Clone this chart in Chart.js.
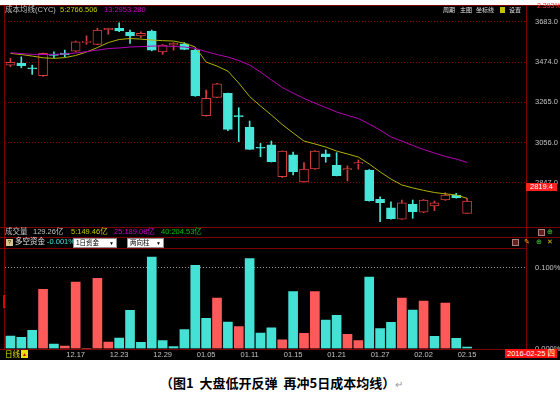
<!DOCTYPE html>
<html>
<head>
<meta charset="utf-8">
<script src="https://cdn.jsdelivr.net/npm/chart.js@4.4.1/dist/chart.umd.min.js"></script>
<style>
  body { margin: 0; background: #fff; width: 560px; height: 397px; overflow: hidden; position: relative;
         font-family: "Liberation Sans", "Noto Sans CJK SC", sans-serif; }
  #pane { position: absolute; left: 0; top: 5px; width: 560px; height: 355px; background: #000; overflow: hidden; }
  .t { position: absolute; white-space: nowrap; font-size: 7.5px; line-height: 8px; color: #c0c0c0; }
  .xl { position: absolute; top: 351px; width: 30px; margin-left: -15px; text-align: center; white-space: nowrap;
        font-size: 7.5px; line-height: 8px; color: #c0c0c0; }
  .ln { position: absolute; background: #7c0000; }
  canvas { position: absolute; left: 0; }
  .box { position: absolute; }
  #caption { position: absolute; left: 160px; top: 375px; white-space: nowrap; font-family: "Noto Sans CJK SC", sans-serif;
             font-weight: bold; font-size: 13px; line-height: 16px; color: #000; }
</style>
</head>
<body>
<div id="pane"></div>

<!-- frame lines -->
<div class="ln" style="left:0;top:5px;width:560px;height:1px"></div>
<div class="ln" style="left:4px;top:5px;width:1px;height:344px"></div>
<div class="ln" style="left:526px;top:5px;width:1px;height:344px"></div>
<div class="ln" style="left:0;top:227px;width:560px;height:1px"></div>
<div class="ln" style="left:0;top:237px;width:560px;height:1px"></div>
<div class="ln" style="left:0;top:248px;width:527px;height:1px"></div>
<div class="ln" style="left:0;top:349px;width:560px;height:1px"></div>
<div class="ln" style="left:3px;top:295px;width:2px;height:13px;background:#e00000"></div>

<canvas id="price" width="560" height="222" style="top:5px"></canvas>
<canvas id="flow" width="560" height="112" style="top:248px"></canvas>
<div id="xlabels"></div>

<!-- header of price panel -->
<div class="t" style="left:5px;top:6px">成本均线(CYC)</div>
<div class="t" style="left:60px;top:6px;color:#c8c800">5:2766.506</div>
<div class="t" style="left:104px;top:6px;color:#c800c8">13:2953.280</div>
<div class="t" style="left:443px;top:6px;color:#e0e0e0;font-size:6px">周期</div>
<div class="t" style="left:460px;top:6px;color:#e0e0e0;font-size:6px">主图</div>
<div class="t" style="left:476px;top:6px;color:#e0e0e0;font-size:6px">坐标线</div>
<div class="box" style="left:500px;top:7px;width:5px;height:6px;background:#c8c000"></div>
<div class="t" style="left:509px;top:6px;color:#e0e0e0;font-size:6px">设置</div>
<div class="t" style="left:537px;top:2px;color:#ff3030;font-size:7px">2.393%</div>

<div class="t" style="left:526px;top:183px;width:31px;height:8px;background:#ff2020;color:#fff;text-align:center">2819.4</div>

<!-- volume row -->
<div class="t" style="left:5px;top:228px">成交量</div>
<div class="t" style="left:33px;top:228px">129.26亿</div>
<div class="t" style="left:71px;top:228px;color:#c8c800">5:149.46亿</div>
<div class="t" style="left:114px;top:228px;color:#c800c8">25:189.08亿</div>
<div class="t" style="left:161px;top:228px;color:#00c000">40:204.53亿</div>
<div class="box" style="left:538px;top:229px;width:5px;height:5px;border:1px solid #b08080;background:#602020"></div>
<div class="t" style="left:547px;top:228px;color:#40d040;font-family:'DejaVu Sans';font-size:7px">⊕</div>

<!-- money flow row -->
<div class="box" style="left:6px;top:239px;width:7px;height:7px;background:#d8c890;color:#402000;font-size:6px;line-height:7px;text-align:center">?</div>
<div class="t" style="left:15px;top:238px;color:#e0e0e0">多空资金</div>
<div class="t" style="left:47px;top:238px;color:#40e0e0">-0.001%</div>
<div class="box" style="left:73px;top:238px;width:42px;height:8px;background:#fff;border:1px solid #909090"></div>
<div class="t" style="left:76px;top:238.5px;color:#000;font-size:6.5px">1日资金</div>
<div class="t" style="left:109px;top:238.5px;color:#000;font-size:5px">▼</div>
<div class="box" style="left:127px;top:238px;width:35px;height:8px;background:#fff;border:1px solid #909090"></div>
<div class="t" style="left:130px;top:238.5px;color:#000;font-size:6.5px">两向柱</div>
<div class="t" style="left:156px;top:238.5px;color:#000;font-size:5px">▼</div>
<div class="box" style="left:512px;top:239px;width:5px;height:5px;border:1px solid #b08080;background:#602020"></div>
<div class="t" style="left:524px;top:238px;color:#d8c000;font-family:'DejaVu Sans';font-size:7px">✎</div>
<div class="t" style="left:536px;top:238px;color:#40d040;font-family:'DejaVu Sans';font-size:7px">⊕</div>
<div class="t" style="left:547px;top:238px;color:#d8c000;font-family:'DejaVu Sans';font-size:7px">✕</div>

<!-- bottom row -->
<div class="t" style="left:5px;top:351px;color:#e0e000">日线</div>
<div class="box" style="left:21px;top:350px;width:7px;height:8px;background:#e8e000;color:#d00000;font-size:5px;line-height:8px;text-align:center">▲</div>
<div class="t" style="left:505px;top:349px;width:52px;height:9px;line-height:9px;background:#ff1010;color:#fff;text-align:center">2016-02-25 四</div>

<div id="caption">（图1&nbsp; 大盘低开反弹&nbsp; 再冲5日成本均线）<span style="font-weight:normal;color:#999;font-size:10px">↵</span></div>

<script>
// trading days shown in the window
const dates = ['12.09','12.10','12.11','12.14','12.15','12.16','12.17','12.18','12.21','12.22',
  '12.23','12.24','12.25','12.28','12.29','12.30','12.31','01.04','01.05','01.06',
  '01.07','01.08','01.11','01.12','01.13','01.14','01.15','01.18','01.19','01.20',
  '01.21','01.22','01.25','01.26','01.27','01.28','01.29','02.01','02.02','02.03',
  '02.04','02.05','02.15'];
const labelIdx = [6, 10, 14, 18, 22, 26, 30, 34, 38, 42];

// daily candles
const open  = [3458,3467,3444,3403,3515,3521,3531,3576,3566,3642,3649,3628,3610,3635,3527,3562,3569,3536,3196,3291,
  3312,3196,3135,3032,3044,2879,2993,2852,2919,2998,2938,2914,2945,2914,2762,2718,2658,2736,2695,2727,2758,2784,2689];
const close = [3472,3455,3438,3519,3509,3512,3579,3581,3640,3649,3635,3610,3623,3535,3562,3573,3540,3298,3286,3361,
  3125,3189,3021,3027,2957,3012,2905,2918,3012,2983,2884,2921,2952,2755,2744,2661,2744,2698,2758,2744,2784,2770,2753];
const high  = [3493,3501,3458,3521,3527,3536,3583,3610,3649,3650,3678,3640,3631,3640,3565,3575,3575,3540,3329,3363,
  3313,3237,3168,3052,3064,3013,3007,2952,3015,3018,3004,2935,2966,2916,2775,2748,2758,2758,2761,2753,2796,2793,2767];
const low   = [3450,3444,3410,3400,3496,3501,3528,3566,3564,3618,3632,3571,3600,3532,3514,3536,3538,3296,3193,3289,
  3118,3061,3020,2983,2955,2875,2888,2850,2917,2954,2883,2857,2918,2752,2646,2658,2657,2663,2692,2703,2756,2768,2688];

// cost moving averages
const cyc5  = [3519,3513,3505,3496,3493,3497,3508,3526,3549,3575,3591,3596,3593,3588,3585,3583,3572,3552,3474,3453,
  3427,3365,3295,3246,3199,3150,3106,3064,3049,3033,3012,2997,2981,2945,2904,2867,2836,2821,2808,2797,2790,2784,2767];
const cyc13 = [3522,3518,3514,3513,3514,3516,3521,3528,3536,3544,3547,3552,3554,3557,3557,3555,3552,3545,3528,3513,
  3500,3482,3458,3422,3381,3342,3313,3285,3261,3238,3215,3197,3181,3152,3121,3085,3064,3041,3020,3002,2984,2971,2953];

// money flow bars (percent) and direction (1 = inflow red, -1 = outflow cyan)
const flow = [0.0157,0.0141,0.0227,0.0733,0.0058,0.0033,0.0823,0,0.0869,0.0082,0.0132,0.0474,0.0078,0.1132,0.0099,
  0.0025,0.0235,0.1030,0.0375,0.0626,0.0330,0.0272,0.1111,0.0194,0.0259,0.0111,0.0704,0.0190,0.0704,0.0354,
  0.0412,0.0178,0.0099,0.0885,0.0247,0.0326,0.0626,0.0478,0.0589,0.0153,0.0564,0.0128,0.0021];
const flowDir = [-1,-1,-1,1,-1,1,1,1,1,1,-1,-1,-1,-1,-1,-1,-1,-1,-1,1,-1,1,-1,-1,-1,1,-1,1,1,-1,
  -1,1,1,-1,-1,-1,1,-1,1,-1,1,-1,-1];

const priceTicks = [2847, 3056, 3265, 3474, 3683];
const flowTicks = [0, 0.1];

const RED = '#d83c3c', CYAN = '#48e6d8';
const FLOW_RED = '#ff5a5a', FLOW_CYAN = '#44e2d4';
const axisFont = { family: 'Liberation Sans', size: 7.5 };
const X_MIN = -0.5, X_MAX = 47.42;

const idx = dates.map((d, i) => i);
const up = close.map((c, i) => c >= open[i]);

function fixedWidth(s) { s.width = 34; s.paddingTop = 0; s.paddingBottom = 0; }

new Chart(document.getElementById('price'), {
  data: {
    datasets: [
      { type: 'line', data: idx.map(i => ({ x: i, y: cyc13[i] })), borderColor: '#b400b4', borderWidth: 1,
        pointRadius: 0, order: 0 },
      { type: 'line', data: idx.map(i => ({ x: i, y: cyc5[i] })), borderColor: '#b0b000', borderWidth: 1,
        pointRadius: 0, order: 0 },
      { type: 'bar', data: idx.map(i => ({ x: i, y: [open[i], close[i]] })),
        backgroundColor: up.map(u => u ? '#000' : CYAN), borderColor: up.map(u => u ? RED : CYAN),
        borderWidth: 1, borderSkipped: false, barThickness: 9, grouped: false, order: 1 },
      { type: 'bar', data: idx.map(i => ({ x: i, y: [low[i], high[i]] })),
        backgroundColor: up.map(u => u ? RED : CYAN), barThickness: 1, grouped: false, order: 2 }
    ]
  },
  options: {
    responsive: false,
    animation: false,
    layout: { padding: { left: 5, right: 0, top: 0, bottom: 0 } },
    plugins: { legend: { display: false }, tooltip: { enabled: false } },
    scales: {
      x: { type: 'linear', min: X_MIN, max: X_MAX, offset: false, display: false },
      y: {
        position: 'right', min: 2618, max: 3770,
        afterBuildTicks: s => { s.ticks = priceTicks.map(v => ({ value: v })); },
        afterFit: fixedWidth,
        grid: { color: '#8c0000', drawTicks: false },
        border: { display: false, dash: [1, 2] },
        ticks: { color: '#c0c0c0', padding: 9, font: axisFont, callback: v => v.toFixed(1) }
      }
    }
  }
});

const flowChart = new Chart(document.getElementById('flow'), {
  type: 'bar',
  data: {
    datasets: [{
      data: idx.map(i => ({ x: i, y: flow[i] })),
      backgroundColor: flowDir.map(d => d > 0 ? FLOW_RED : FLOW_CYAN),
      barThickness: 9
    }]
  },
  options: {
    responsive: false,
    animation: false,
    layout: { padding: { left: 5, right: 0, top: 0, bottom: 11.3 } },
    plugins: { legend: { display: false }, tooltip: { enabled: false } },
    scales: {
      x: { type: 'linear', min: X_MIN, max: X_MAX, offset: false, display: false },
      y: {
        position: 'right', min: 0, max: 0.1243,
        afterBuildTicks: s => { s.ticks = flowTicks.map(v => ({ value: v })); },
        afterFit: fixedWidth,
        grid: { color: c => (c.tick && c.tick.value === 0.1) ? '#9a9a9a' : 'rgba(0,0,0,0)', drawTicks: false },
        border: { display: false, dash: [1, 2] },
        ticks: { color: '#c0c0c0', padding: 9, font: axisFont, callback: v => v.toFixed(3) + '%' }
      }
    }
  }
});

// date labels under the lower panel, placed with the chart's own x scale
const xs = flowChart.scales.x;
const holder = document.getElementById('xlabels');
labelIdx.forEach(i => {
  const d = document.createElement('div');
  d.className = 'xl';
  d.style.left = xs.getPixelForValue(i) + 'px';
  d.textContent = dates[i];
  holder.appendChild(d);
});
</script>
</body>
</html>
